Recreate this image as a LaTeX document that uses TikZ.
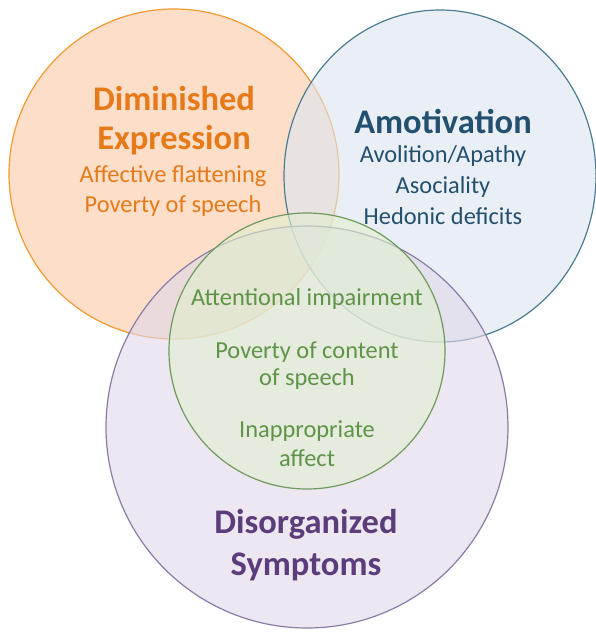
\documentclass[tikz,border=0pt]{standalone}
\usepackage{fontspec}
\setmainfont{Carlito}
\definecolor{oStroke}{HTML}{F39A30}
\definecolor{oFill}{HTML}{FAC9A6}
\definecolor{oText}{HTML}{E67A18}
\definecolor{bStroke}{HTML}{4C7D95}
\definecolor{bFill}{HTML}{DCE5F1}
\definecolor{bText}{HTML}{22506E}
\definecolor{pStroke}{HTML}{8A7CA8}
\definecolor{pFill}{HTML}{E1D8EA}
\definecolor{pText}{HTML}{5A3D7A}
\definecolor{gStroke}{HTML}{6E9A5C}
\definecolor{gFill}{HTML}{E0EFCF}
\definecolor{gText}{HTML}{5E9447}
\tikzset{
  venn/.style={line width=1.2pt, fill opacity=0.6},
  ttl/.style={font=\fontsize{34.5}{36}\selectfont\bfseries, inner sep=0pt, anchor=center},
  itm/.style={font=\fontsize{24.4}{26}\selectfont, inner sep=0pt, anchor=center},
}
\begin{document}
\begin{tikzpicture}[x=1pt,y=-1pt]
\useasboundingbox (0,0) rectangle (595,632);
\fill[white] (0,0) rectangle (595,632);
% circles
\draw[venn, draw=oStroke, fill=oFill] (174,174) circle[radius=165];
\draw[venn, draw=bStroke, fill=bFill] (440,176) ellipse[x radius=156, y radius=166];
\draw[venn, draw=pStroke, fill=pFill] (307,427) circle[radius=201];
\draw[venn, draw=gStroke, fill=gFill] (307,351) circle[radius=138];
% texts orange
\node[ttl, text=oText] (d1) at (174,99) {Diminished};
\node[ttl, text=oText] (d2) at (174,140) {Expression};
\node[itm, text=oText] (d3) at (173,176) {Affective flattening};
\node[itm, text=oText] (d4) at (173,206) {Poverty of speech};
% texts blue
\node[ttl, text=bText] (a1) at (443,121) {Amotivation};
\node[itm, text=bText] (a2) at (443,156) {Avolition/Apathy};
\node[itm, text=bText] (a3) at (443,187) {Asociality};
\node[itm, text=bText] (a4) at (443,216) {Hedonic deficits};
% texts green
\node[itm, text=gText] (g1) at (307,299) {Attentional impairment};
\node[itm, text=gText] (g2) at (307,352) {Poverty of content};
\node[itm, text=gText] (g3) at (307,379) {of speech};
\node[itm, text=gText] (g4) at (307,431) {Inappropriate};
\node[itm, text=gText] (g5) at (307,458) {affect};
% texts purple
\node[ttl, text=pText] (s1) at (306,524) {Disorganized};
\node[ttl, text=pText] (s2) at (306,567) {Symptoms};
\end{tikzpicture}
\end{document}
